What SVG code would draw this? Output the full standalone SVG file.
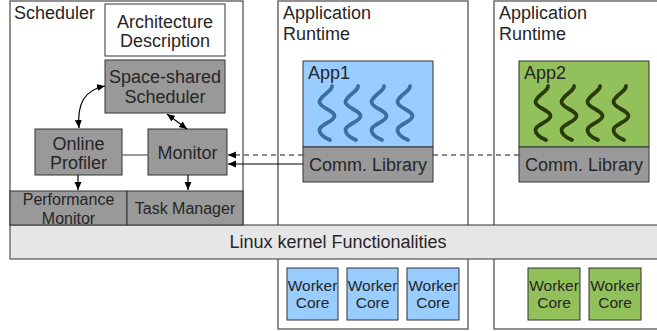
<svg xmlns="http://www.w3.org/2000/svg" xmlns:xlink="http://www.w3.org/1999/xlink" width="657" height="331" viewBox="0 0 657 331">
<style>
text{font-family:"Liberation Sans",Arial,sans-serif;fill:#262626}
.t18{font-size:18px}
.t16{font-size:16px}
.t15{font-size:15.5px}
.mid{text-anchor:middle}
.cont{fill:#fff;stroke:#555;stroke-width:1.3}
.gray{fill:#999;stroke:#333;stroke-width:1}
.white{fill:#fff;stroke:#333;stroke-width:1}
.blue{fill:#99ccff;stroke:#333;stroke-width:1}
.green{fill:#92c05a;stroke:#333;stroke-width:1}
.kern{fill:#e6e6e6;stroke:#333;stroke-width:1}
.sqb{fill:none;stroke:#3a6ea5;stroke-width:3.8;stroke-linecap:round}
.sqg{fill:none;stroke:#2a3a0a;stroke-width:3.8;stroke-linecap:round}
.con{fill:none;stroke:#000;stroke-width:1.2}
</style>
<defs>
<marker id="ah" viewBox="0 0 8 8" refX="8" refY="4" markerWidth="8" markerHeight="8" markerUnits="userSpaceOnUse" orient="auto-start-reverse"><path d="M0,0.5 L8,4 L0,7.5 z" fill="#000"/></marker>
<path id="sq" d="M5,0 C6,5 -7.5,10 -7.5,16 C-7.5,22 7.5,24 7.5,30 C7.5,36 -7.5,38 -7.5,44 C-7.5,50 1,53 3,54"/>
</defs>
<rect width="657" height="331" fill="#fff"/>

<g id="scheduler">
<rect class="cont" x="10" y="1" width="233" height="224"/>
<text class="t18" x="14" y="19">Scheduler</text>
</g>
<g id="runtime1">
<rect class="cont" x="278" y="1" width="190" height="328"/>
<text class="t18" x="283" y="19">Application</text>
<text class="t18" x="283" y="40">Runtime</text>
</g>
<g id="runtime2">
<rect class="cont" x="494" y="1" width="170" height="328"/>
<text class="t18" x="499" y="19">Application</text>
<text class="t18" x="499" y="40">Runtime</text>
</g>
<g id="kernel">
<rect class="kern" x="10" y="225" width="660" height="34"/>
<text class="t18 mid" x="338" y="248">Linux kernel Functionalities</text>
</g>

<g id="arch-desc">
<rect class="white" x="105" y="4" width="120" height="52"/>
<text class="t18 mid" x="165" y="28">Architecture</text>
<text class="t18 mid" x="165" y="47">Description</text>
</g>
<g id="space-shared">
<rect class="gray" x="105" y="60" width="120" height="53"/>
<text class="t18 mid" x="165" y="83">Space-shared</text>
<text class="t18 mid" x="165" y="103">Scheduler</text>
</g>
<g id="online-profiler">
<rect class="gray" x="35" y="129" width="87" height="46"/>
<text class="t18 mid" x="78.5" y="150">Online</text>
<text class="t18 mid" x="78.5" y="169">Profiler</text>
</g>
<g id="monitor">
<rect class="gray" x="148" y="129" width="79" height="46"/>
<text class="t18 mid" x="187.5" y="159">Monitor</text>
</g>
<g id="perf-monitor">
<rect class="gray" x="10" y="191" width="117" height="34"/>
<text class="t16 mid" x="68.5" y="204.5">Performance</text>
<text class="t16 mid" x="68.5" y="223.5">Monitor</text>
</g>
<g id="task-manager">
<rect class="gray" x="127" y="191" width="116" height="34"/>
<text class="t16 mid" x="185" y="214">Task Manager</text>
</g>

<g id="connectors">
<line x1="122" y1="155" x2="148" y2="155" stroke="#777" stroke-width="1.5"/>
<path class="con" d="M79,128 C77,104 84,90 105,86" marker-start="url(#ah)" marker-end="url(#ah)"/>
<path class="con" d="M167,114 L187,129" marker-start="url(#ah)" marker-end="url(#ah)"/>
<path class="con" d="M78,175 L78,190" marker-end="url(#ah)"/>
<path class="con" d="M188,175 L188,190" marker-end="url(#ah)"/>
<path d="M519,155 L233,155" fill="none" stroke="#666" stroke-width="1.5" stroke-dasharray="5,4"/>
<path d="M233,155 L228,155" fill="none" stroke="#666" stroke-width="1.5" marker-end="url(#ah)"/>
<path class="con" d="M303,164 L228,164" marker-end="url(#ah)"/>
</g>

<g id="app1">
<rect class="blue" x="303" y="61" width="130" height="86"/>
<text class="t18" x="308" y="79">App1</text>
<use xlink:href="#sq" class="sqb" x="327" y="86"/>
<use xlink:href="#sq" class="sqb" x="353" y="86"/>
<use xlink:href="#sq" class="sqb" x="379" y="86"/>
<use xlink:href="#sq" class="sqb" x="405" y="86"/>
</g>
<g id="comm1">
<rect class="gray" x="303" y="147" width="130" height="35"/>
<text class="t18 mid" x="368" y="171">Comm. Library</text>
</g>
<g id="app2">
<rect class="green" x="519" y="61" width="130" height="86"/>
<text class="t18" x="524" y="79">App2</text>
<use xlink:href="#sq" class="sqg" x="543" y="86"/>
<use xlink:href="#sq" class="sqg" x="569" y="86"/>
<use xlink:href="#sq" class="sqg" x="595" y="86"/>
<use xlink:href="#sq" class="sqg" x="621" y="86"/>
</g>
<g id="comm2">
<rect class="gray" x="519" y="147" width="130" height="35"/>
<text class="t18 mid" x="584" y="171">Comm. Library</text>
</g>

<g id="core1"><rect class="blue" x="287" y="268" width="51" height="52"/><text class="t15 mid" x="312.5" y="291">Worker</text><text class="t15 mid" x="312.5" y="308">Core</text></g>
<g id="core2"><rect class="blue" x="347" y="268" width="51" height="52"/><text class="t15 mid" x="372.5" y="291">Worker</text><text class="t15 mid" x="372.5" y="308">Core</text></g>
<g id="core3"><rect class="blue" x="407" y="268" width="52" height="52"/><text class="t15 mid" x="433" y="291">Worker</text><text class="t15 mid" x="433" y="308">Core</text></g>
<g id="core4"><rect class="green" x="528" y="268" width="52" height="52"/><text class="t15 mid" x="554" y="291">Worker</text><text class="t15 mid" x="554" y="308">Core</text></g>
<g id="core5"><rect class="green" x="589" y="268" width="52" height="52"/><text class="t15 mid" x="615" y="291">Worker</text><text class="t15 mid" x="615" y="308">Core</text></g>
</svg>
